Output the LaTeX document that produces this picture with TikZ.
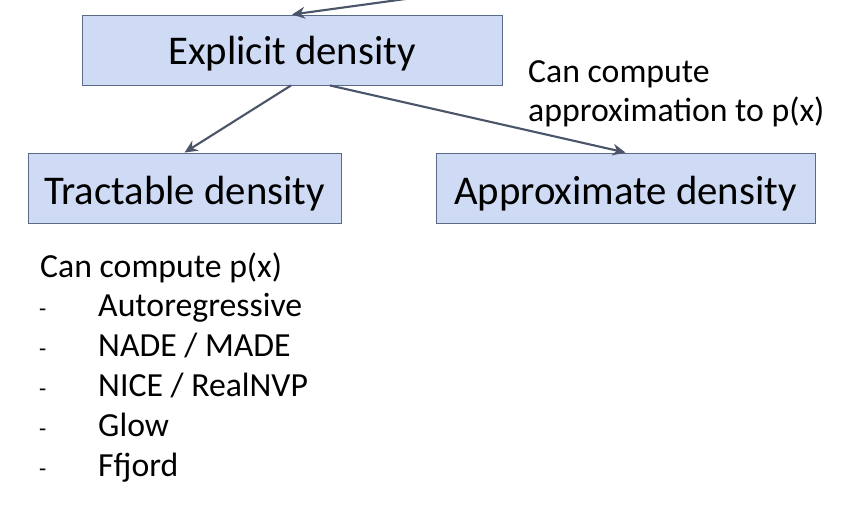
\documentclass[tikz,border=0pt]{standalone}
\usepackage{fontspec}
\setmainfont{Carlito}
\usepackage{xcolor}
\usepackage{tikz}
\usetikzlibrary{calc,arrows.meta}
\definecolor{boxfill}{HTML}{CFDAF4}
\definecolor{boxline}{HTML}{5A6B87}
\definecolor{arrline}{HTML}{4B5569}
\tikzset{
  box/.style={draw=boxline, fill=boxfill, line width=0.8pt, inner sep=0pt,
    text height=24.6pt, text depth=0pt, font=\fontsize{34.8}{40}\selectfont},
  arr/.style={draw=arrline, line width=1.8pt, -{Stealth[length=11pt,width=10pt]}},
  note/.style={inner sep=0pt, anchor=base west, font=\fontsize{28.8}{34}\selectfont},
  dashmark/.style={inner sep=0pt, anchor=base west, font=\fontsize{20}{24}\selectfont}
}
\begin{document}
\begin{tikzpicture}[x=0.03cm, y=-0.03cm]
\useasboundingbox (0,0) rectangle (850,506);
% boxes
\node[box, minimum width=420*0.03cm, minimum height=70*0.03cm] (explicit) at (292,50) {Explicit density};
\node[box, text height=29pt, minimum width=313*0.03cm, minimum height=70*0.03cm] (tractable) at (184.5,188) {Tractable density};
\node[box, text height=29pt, minimum width=379*0.03cm, minimum height=70*0.03cm] (approx) at (625.5,188) {Approximate density};

% arrows
\coordinate (parent) at (420,-3);
\draw[arr] (parent) -- (explicit.north);
\draw[arr] ($(explicit.south)+(-1,0)$) -- (tractable.north);
\draw[arr] ($(explicit.south)+(38,0)$) -- (approx.north);

% approximate side
\node[note] (apx1) at (528,82) {Can compute};
\node[note] (apx2) at (528,121) {approximation to p(x)};

% tractable side
\node[note] (trc) at (40,277) {Can compute p(x)};
\node[dashmark] (d1) at (39,316) {-};
\node[note] (i1) at (98,316) {Autoregressive};
\node[dashmark] (d2) at (39,356) {-};
\node[note] (i2) at (98,356) {NADE / MADE};
\node[dashmark] (d3) at (39,396) {-};
\node[note] (i3) at (98,396) {NICE / RealNVP};
\node[dashmark] (d4) at (39,436) {-};
\node[note] (i4) at (98,436) {Glow};
\node[dashmark] (d5) at (39,476) {-};
\node[note] (i5) at (98,476) {Ffjord};
\end{tikzpicture}
\end{document}
